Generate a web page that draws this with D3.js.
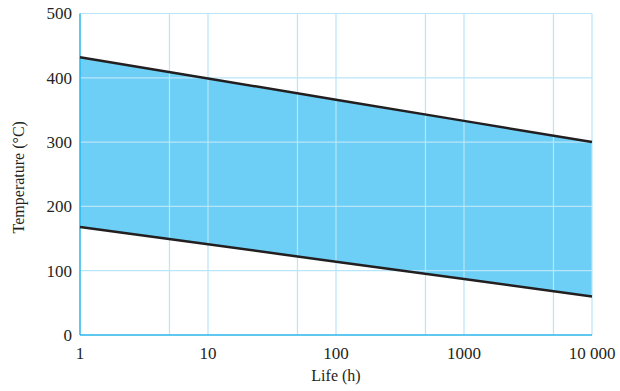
<!DOCTYPE html>
<html>
<head>
<meta charset="utf-8">
<script src="https://cdn.jsdelivr.net/npm/d3@7"></script>
<style>
  body { margin: 0; background: #fff; }
  text { font-family: "Liberation Serif", "Times New Roman", serif; fill: #231f20; }
</style>
</head>
<body>
<div id="chart"></div>
<script>
// life (h) and temperature limits
var lifeHours = [1, 10, 100, 1000, 10000];
var upperTemp = [432, 399, 366, 333, 300];
var lowerTemp = [168, 141, 114, 87, 60];
var xTicks = [1, 10, 100, 1000, 10000];
var xTickLabels = ["1", "10", "100", "1000", "10 000"];
var xGrid = [5, 10, 50, 100, 500, 1000, 5000, 10000];
var yTicks = [0, 100, 200, 300, 400, 500];

var W = 620, H = 391;
var margin = {top: 13.5, right: 28, bottom: 56, left: 80};
var w = W - margin.left - margin.right;
var h = H - margin.top - margin.bottom;

var svg = d3.select("#chart").append("svg")
    .attr("width", W).attr("height", H)
  .append("g")
    .attr("transform", "translate(" + margin.left + "," + margin.top + ")");

var x = d3.scaleLog().domain([1, 10000]).range([0, w]);
var y = d3.scaleLinear().domain([0, 500]).range([h, 0]);

var band = lifeHours.map(function(d, i) { return {t: d, lo: lowerTemp[i], hi: upperTemp[i]}; });

// filled band
svg.append("path")
   .datum(band)
   .attr("fill", "#6dcff6")
   .attr("d", d3.area().x(function(d) { return x(d.t); })
                      .y0(function(d) { return y(d.lo); })
                      .y1(function(d) { return y(d.hi); }));

// grid
svg.selectAll(".vg").data(xGrid).enter().append("line")
   .attr("x1", function(d) { return x(d); }).attr("x2", function(d) { return x(d); })
   .attr("y1", 0).attr("y2", h)
   .attr("stroke", "#b8e5f8").attr("stroke-width", 1.2);

svg.selectAll(".hg").data(yTicks.slice(1)).enter().append("line")
   .attr("x1", 0).attr("x2", w)
   .attr("y1", function(d) { return y(d); }).attr("y2", function(d) { return y(d); })
   .attr("stroke", "#b8e5f8").attr("stroke-width", 1.2);

// axes lines
svg.append("line").attr("x1", 0).attr("x2", 0).attr("y1", 0).attr("y2", h)
   .attr("stroke", "#29b6ec").attr("stroke-width", 1.5);
svg.append("line").attr("x1", 0).attr("x2", w).attr("y1", h).attr("y2", h)
   .attr("stroke", "#29b6ec").attr("stroke-width", 1.5);

// limit lines
var line = d3.line().x(function(d) { return x(d[0]); }).y(function(d) { return y(d[1]); });
[upperTemp, lowerTemp].forEach(function(s) {
  svg.append("path")
     .datum(lifeHours.map(function(t, i) { return [t, s[i]]; }))
     .attr("fill", "none").attr("stroke", "#231f20").attr("stroke-width", 2.5)
     .attr("d", line);
});

// tick labels
svg.selectAll(".yl").data(yTicks).enter().append("text")
   .attr("x", -8).attr("y", function(d) { return y(d); })
   .attr("dy", "0.35em").attr("text-anchor", "end")
   .attr("font-size", "17px").text(function(d) { return d; });

svg.selectAll(".xl").data(xTicks).enter().append("text")
   .attr("x", function(d) { return x(d); }).attr("y", h + 24)
   .attr("text-anchor", "middle")
   .attr("font-size", "17px").text(function(d, i) { return xTickLabels[i]; });

// axis titles
svg.append("text")
   .attr("transform", "translate(" + (w / 2) + "," + (h + 46) + ")")
   .attr("text-anchor", "middle").attr("font-size", "16px")
   .text("Life (h)");

svg.append("text")
   .attr("transform", "translate(-56," + (h / 2 + 3) + ") rotate(-90)")
   .attr("text-anchor", "middle").attr("font-size", "16px")
   .text("Temperature (°C)");
</script>
</body>
</html>
